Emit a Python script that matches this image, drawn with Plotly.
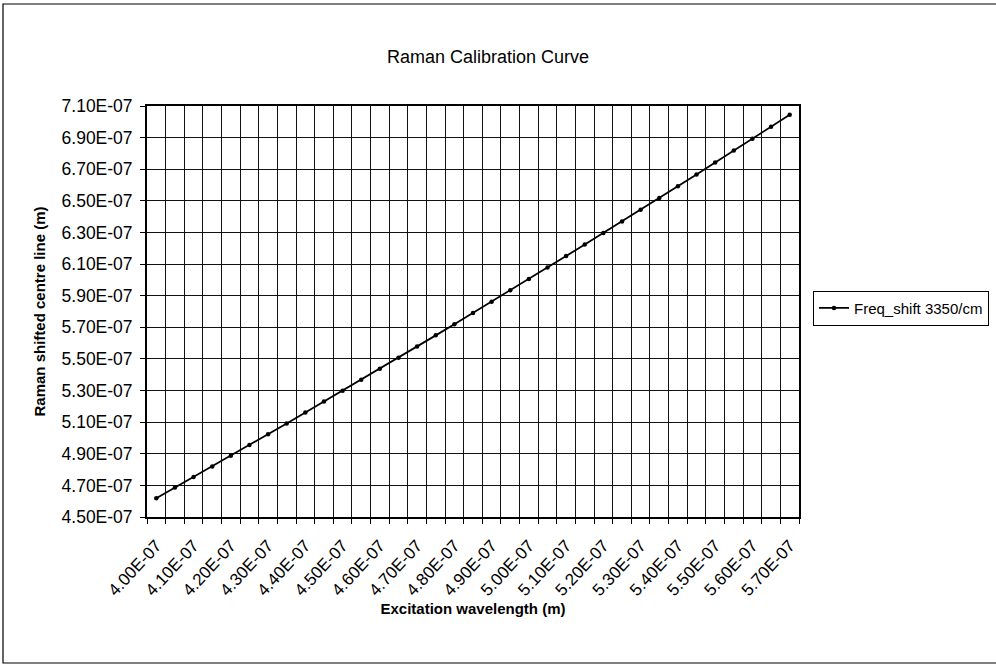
import plotly.graph_objects as go

# Excitation wavelength categories (m)
excitation_m = [4.00e-7, 4.05e-7, 4.10e-7, 4.15e-7, 4.20e-7, 4.25e-7, 4.30e-7, 4.35e-7,
                4.40e-7, 4.45e-7, 4.50e-7, 4.55e-7, 4.60e-7, 4.65e-7, 4.70e-7, 4.75e-7,
                4.80e-7, 4.85e-7, 4.90e-7, 4.95e-7, 5.00e-7, 5.05e-7, 5.10e-7, 5.15e-7,
                5.20e-7, 5.25e-7, 5.30e-7, 5.35e-7, 5.40e-7, 5.45e-7, 5.50e-7, 5.55e-7,
                5.60e-7, 5.65e-7, 5.70e-7]

# Raman shifted centre line (m), Freq_shift 3350/cm
raman_shifted_m = [4.619e-7, 4.686e-7, 4.753e-7, 4.820e-7, 4.888e-7, 4.956e-7, 5.024e-7,
                   5.092e-7, 5.161e-7, 5.230e-7, 5.299e-7, 5.368e-7, 5.438e-7, 5.508e-7,
                   5.578e-7, 5.649e-7, 5.720e-7, 5.791e-7, 5.862e-7, 5.934e-7, 6.006e-7,
                   6.078e-7, 6.151e-7, 6.224e-7, 6.297e-7, 6.370e-7, 6.444e-7, 6.518e-7,
                   6.593e-7, 6.667e-7, 6.742e-7, 6.818e-7, 6.893e-7, 6.969e-7, 7.045e-7]

x_tick_vals = excitation_m[::2]
x_tick_text = ["4.00E-07", "4.10E-07", "4.20E-07", "4.30E-07", "4.40E-07", "4.50E-07",
               "4.60E-07", "4.70E-07", "4.80E-07", "4.90E-07", "5.00E-07", "5.10E-07",
               "5.20E-07", "5.30E-07", "5.40E-07", "5.50E-07", "5.60E-07", "5.70E-07"]

y_tick_vals = [4.5e-7, 4.7e-7, 4.9e-7, 5.1e-7, 5.3e-7, 5.5e-7, 5.7e-7,
               5.9e-7, 6.1e-7, 6.3e-7, 6.5e-7, 6.7e-7, 6.9e-7, 7.1e-7]
y_tick_text = ["4.50E-07", "4.70E-07", "4.90E-07", "5.10E-07", "5.30E-07", "5.50E-07",
               "5.70E-07", "5.90E-07", "6.10E-07", "6.30E-07", "6.50E-07", "6.70E-07",
               "6.90E-07", "7.10E-07"]

series_name = "Freq_shift 3350/cm"

step = excitation_m[1] - excitation_m[0]
x_lo = excitation_m[0] - step / 2
x_hi = excitation_m[-1] + step / 2

FONT = "Arial, Liberation Sans, sans-serif"

fig = go.Figure()
fig.add_trace(go.Scatter(
    x=excitation_m, y=raman_shifted_m, name=series_name,
    mode="lines+markers",
    line=dict(color="black", width=1.8),
    marker=dict(color="black", size=4.5),
    showlegend=True,
))

fig.update_layout(
    width=996, height=666,
    margin=dict(l=147, r=197, t=106, b=149, autoexpand=False),
    paper_bgcolor="white", plot_bgcolor="white",
    font=dict(family=FONT, color="black"),
    title=dict(text="Raman Calibration Curve", x=0.49, xanchor="center",
               y=1 - 57 / 666, yanchor="middle",
               font=dict(size=18, family=FONT, color="black")),
    showlegend=True,
    legend=dict(x=1.0215, xanchor="left", y=0.508, yanchor="middle",
                bordercolor="black", borderwidth=1, bgcolor="white",
                font=dict(size=15, family=FONT, color="black"),
                itemwidth=30, tracegroupgap=0),
)

fig.update_xaxes(
    range=[x_lo, x_hi], automargin=False,
    tickmode="array", tickvals=x_tick_vals, ticktext=x_tick_text,
    tickangle=-47, tickfont=dict(size=17, family=FONT, color="black"),
    ticklabelstandoff=10,
    ticks="", showgrid=False, zeroline=False,
    showline=True, linecolor="black", linewidth=1.8, mirror=True,
    minor=dict(tickmode="linear", tick0=x_lo, dtick=step,
               showgrid=True, gridcolor="#111111", gridwidth=1.4,
               ticks="outside", ticklen=5, tickcolor="black", tickwidth=1.2),
    title=dict(text="<b>Excitation wavelength (m)</b>",
               font=dict(size=15, family=FONT, color="black"), standoff=0),
)

fig.update_yaxes(
    range=[y_tick_vals[0], y_tick_vals[-1]], automargin=False,
    tickmode="array", tickvals=y_tick_vals, ticktext=y_tick_text,
    tickfont=dict(size=17.5, family=FONT, color="black"),
    ticklabelstandoff=4,
    ticks="outside", ticklen=5, tickcolor="black", tickwidth=1.2,
    showgrid=True, gridcolor="#111111", gridwidth=1.4, zeroline=False,
    showline=True, linecolor="black", linewidth=1.8, mirror=True,
    title=dict(text="<b>Raman shifted centre line (m)</b>",
               font=dict(size=15, family=FONT, color="black"), standoff=12),
)

# outer chart-area frame
fig.add_shape(type="rect", xref="paper", yref="paper",
              x0=(3 - 147) / 652, x1=(1000 - 147) / 652,
              y0=(517 - 663) / 411, y1=(517 - 4) / 411,
              line=dict(color="black", width=1.2), fillcolor="rgba(0,0,0,0)",
              layer="below")

fig.write_html("out.html", config={"displayModeBar": False},
               post_script="document.body.style.margin='0';")
